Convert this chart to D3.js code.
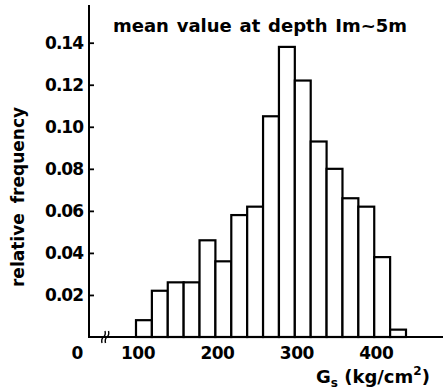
<!DOCTYPE html>
<html>
<head>
<meta charset="utf-8">
<script src="https://cdn.jsdelivr.net/npm/d3@7"></script>
<style>
  body { margin: 0; background: #fff; }
  text { font-family: "DejaVu Sans", sans-serif; font-weight: bold; fill: #000; }
</style>
</head>
<body>
<svg id="chart" width="444" height="392"></svg>
<script>
// bins of Gs (kg/cm2), 20 wide
var binStarts = [100, 120, 140, 160, 180, 200, 220, 240, 260, 280, 300, 320, 340, 360, 380, 400, 420];
var binWidth = 20;
var freqs = [0.008, 0.022, 0.026, 0.026, 0.046, 0.036, 0.058, 0.062, 0.105, 0.138, 0.122, 0.093, 0.080, 0.066, 0.062, 0.038, 0.0035];
var yTicks = [0.02, 0.04, 0.06, 0.08, 0.10, 0.12, 0.14];
var xTicks = [100, 200, 300, 400];

var svg = d3.select("#chart");

var x = d3.scaleLinear().domain([100, 440]).range([136, 406]);
var y = d3.scaleLinear().domain([0, 0.14]).range([337, 42.7]);
var axisX = 89;

// bars
svg.append("g").selectAll("rect")
    .data(binStarts)
    .enter().append("rect")
    .attr("x", function(d) { return x(d); })
    .attr("y", function(d, i) { return y(freqs[i]); })
    .attr("width", function(d) { return x(d + binWidth) - x(d); })
    .attr("height", function(d, i) { return y(0) - y(freqs[i]); })
    .attr("fill", "#fff")
    .attr("stroke", "#000")
    .attr("stroke-width", 2.2);

// y axis: ticks pointing inward, labels drawn separately
var yAxis = d3.axisRight(y).tickValues(yTicks).tickSize(5).tickFormat("");
var yg = svg.append("g").attr("transform", "translate(" + axisX + ",0)").call(yAxis);
yg.select(".domain").remove();
yg.selectAll(".tick line").attr("stroke", "#000").attr("stroke-width", 1.8);
svg.append("line")
    .attr("x1", axisX).attr("x2", axisX)
    .attr("y1", 5).attr("y2", y(0) + 1)
    .attr("stroke", "#000").attr("stroke-width", 2);

svg.append("g").selectAll("text")
    .data(yTicks)
    .enter().append("text")
    .attr("x", 83)
    .attr("y", function(d) { return y(d); })
    .attr("dy", "0.36em")
    .attr("text-anchor", "end")
    .attr("font-size", 17)
    .attr("letter-spacing", -1)
    .text(function(d) { return d3.format(".2f")(d); });

// x axis line
svg.append("line")
    .attr("x1", axisX).attr("x2", 443)
    .attr("y1", y(0)).attr("y2", y(0))
    .attr("stroke", "#000").attr("stroke-width", 2);

// axis break mark
var bx = 104;
[0, 3.5].forEach(function(off) {
    svg.append("path")
        .attr("d", "M" + (bx + off - 2) + "," + (y(0) + 6) +
            " q-1,-4 1.5,-6 q2.5,-2 1.5,-6")
        .attr("fill", "none")
        .attr("stroke", "#000")
        .attr("stroke-width", 1.4);
});

svg.append("g").selectAll("text")
    .data(xTicks)
    .enter().append("text")
    .attr("x", function(d) { return x(d) + 2; })
    .attr("y", 359)
    .attr("text-anchor", "middle")
    .attr("font-size", 17)
    .attr("letter-spacing", -0.5)
    .text(function(d) { return d; });

svg.append("text")
    .attr("x", 77.5).attr("y", 359)
    .attr("text-anchor", "middle")
    .attr("font-size", 17)
    .text("0");

// title
svg.append("text")
    .attr("x", 113).attr("y", 32)
    .attr("font-size", 18)
    .attr("word-spacing", 1.5)
    .text("mean value at depth Im~5m");

// y label
svg.append("text")
    .attr("transform", "translate(24,197) rotate(-90)")
    .attr("text-anchor", "middle")
    .attr("font-size", 17)
    .attr("word-spacing", 4)
    .text("relative frequency");

// x label
var xl = svg.append("text")
    .attr("x", 316).attr("y", 383)
    .attr("font-size", 18);
xl.append("tspan").text("G");
xl.append("tspan").attr("font-size", 12).attr("dy", 4).text("s");
xl.append("tspan").attr("dy", -4).text(" (kg/cm");
xl.append("tspan").attr("font-size", 12).attr("dy", -8).text("2");
xl.append("tspan").attr("dy", 8).text(")");
</script>
</body>
</html>
